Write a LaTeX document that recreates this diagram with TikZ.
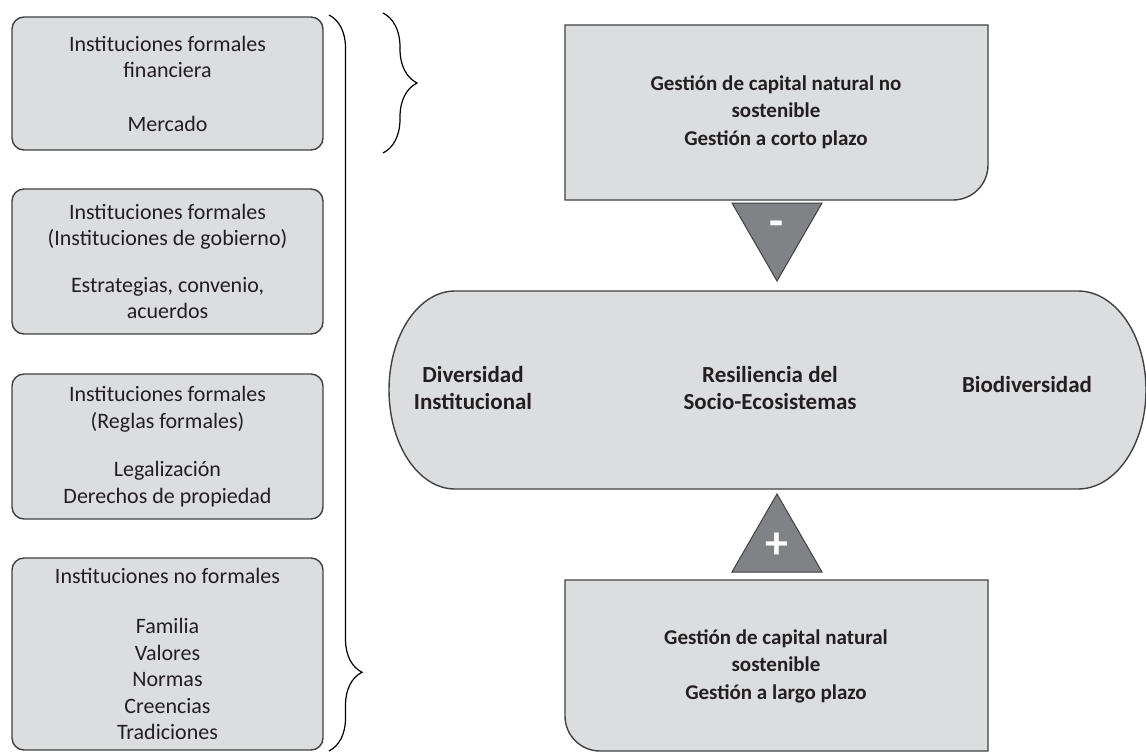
\documentclass[tikz,border=0pt]{standalone}
\usepackage{fontspec}
\setmainfont{Carlito}
\usetikzlibrary{shapes.geometric, decorations.pathreplacing, positioning}
\definecolor{panelgray}{HTML}{DCDDDF}
\definecolor{edgegray}{HTML}{414042}
\definecolor{wedgegray}{HTML}{808285}
\definecolor{inkblack}{HTML}{231F20}

\begin{document}
\begin{tikzpicture}[
    x=1pt, y=-1pt,
    inst/.style={
        draw=edgegray,
        fill=panelgray,
        line width=1.4pt,
        rounded corners=12pt,
        minimum width=311pt,
        align=center,
        text=inkblack,
        font=\fontsize{22}{26.5}\selectfont
    },
    panel/.style={draw=edgegray, fill=panelgray, line width=1.4pt},
    heading/.style={align=center, text=inkblack, font=\fontsize{21}{27.5}\selectfont\bfseries},
    bigheading/.style={heading, font=\fontsize{23}{27.5}\selectfont\bfseries},
    wedge/.style={
        regular polygon,
        regular polygon sides=3,
        draw=edgegray,
        fill=wedgegray,
        line width=1pt,
        minimum size=104pt,
        inner sep=0pt,
        text=white,
        font=\fontsize{46}{46}\selectfont\bfseries
    },
    curly/.style={decorate, draw=black, line width=1.2pt}
]

\useasboundingbox (0,0) rectangle (1146,752);

% institutions on the left
\node[inst, minimum height=133pt] (finance) at (167.5,83.5)
    {Instituciones formales\\financiera\\[27pt]Mercado};
\node[inst, minimum height=145pt] (government) at (167.5,261.5)
    {Instituciones formales\\(Instituciones de gobierno)\\[20pt]Estrategias, convenio,\\acuerdos};
\node[inst, minimum height=145pt] (rules) at (167.5,446.5)
    {Instituciones formales\\(Reglas formales)\\[22pt]Legalización\\Derechos de propiedad};
\node[inst, minimum height=192pt] (informal) at (167.5,654)
    {Instituciones no formales\\[24pt]Familia\\Valores\\Normas\\Creencias\\Tradiciones};

% braces
\draw[curly, decoration={brace, amplitude=33pt, aspect=0.893}] (329,15) -- (329,751);
\draw[curly, decoration={brace, amplitude=34pt}] (383,13) -- (383,153);

% management boxes
\draw[panel] (565,25) -- (988,25) -- (988,165) arc[start angle=0, end angle=90, radius=35] -- (565,200) -- cycle;
\draw[panel] (565,580) -- (988,580) -- (988,751) -- (600,751) arc[start angle=90, end angle=180, radius=35] -- cycle;
\node[heading] (shortterm) at (776,112) {Gestión de capital natural no\\sostenible\\Gestión a corto plazo};
\node[heading] (longterm) at (776,666) {Gestión de capital natural\\sostenible\\Gestión a largo plazo};

% resilience
\draw[panel] (455,291) -- (1078,291) arc[start angle=-90, end angle=90, x radius=68, y radius=99]
    -- (455,489) arc[start angle=90, end angle=270, x radius=66, y radius=99] -- cycle;
\node[bigheading] (instdiv) at (473,388) {Diversidad\\Institucional};
\node[bigheading] (resilience) at (770,388) {Resiliencia del\\Socio-Ecosistemas};
\node[bigheading] (biodiv) at (1027,385) {Biodiversidad};

% effects
\node[wedge, shape border rotate=180] (minus) at (777,229) {-};
\node[wedge] (plus) at (777,546) {+};

\end{tikzpicture}
\end{document}
